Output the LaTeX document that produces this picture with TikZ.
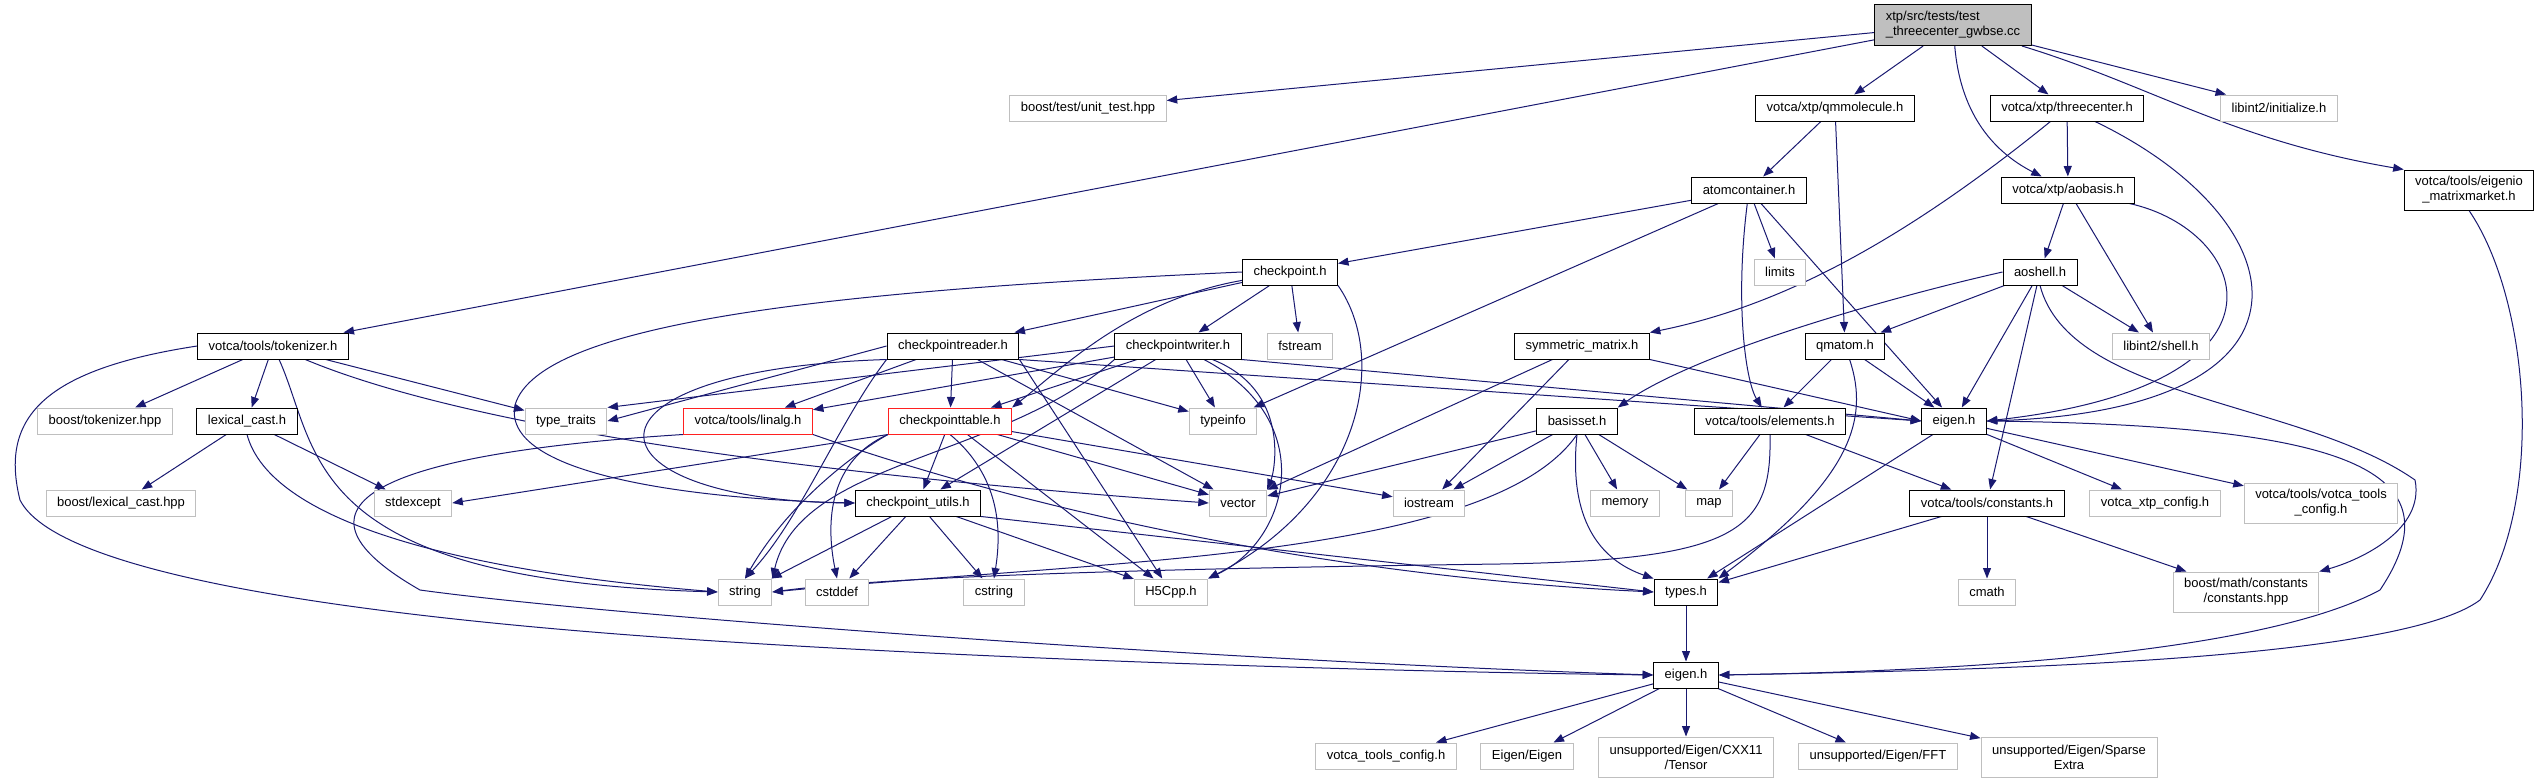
\documentclass[tikz,border=0pt]{standalone}
\usepackage{fontspec}
\setmainfont{Liberation Sans}
\usepackage{xcolor}
\usepackage{tikz}
\usetikzlibrary{arrows.meta,backgrounds}
\definecolor{edgeblue}{HTML}{191970}
\definecolor{sysgray}{HTML}{BFBFBF}
\definecolor{cutred}{HTML}{FF2020}

\begin{document}
\begin{tikzpicture}[x=1bp, y=-1bp,
  file/.style={draw=black, line width=1bp, fill=white, inner xsep=11bp, inner ysep=0bp,
    minimum height=26bp, font=\fontsize{13bp}{15bp}\selectfont},
  sysfile/.style={file, draw=sysgray},
  cutfile/.style={file, draw=cutred},
  twoline/.style={align=center, minimum height=40bp},
  dep/.style={draw=edgeblue, line width=1bp, -{Triangle[length=10.5bp,width=8bp]}}]
\useasboundingbox (0,0) rectangle (2544,783);

% Row 1: the test file itself
\node[file, fill=sysgray, align=left, minimum height=41bp] (root) at (1953,25) {xtp/src/tests/test\\\_threecenter\_gwbse.cc};

% Row 2
\node[sysfile] (unittest) at (1088,108) {boost/test/unit\_test.hpp};
\node[file] (qmmol) at (1835,108) {votca/xtp/qmmolecule.h};
\node[file] (threec) at (2067,108) {votca/xtp/threecenter.h};
\node[sysfile] (libinit) at (2279,108) {libint2/initialize.h};

% Row 3
\node[file] (atomc) at (1749,190) {atomcontainer.h};
\node[file] (aobasis) at (2068,190) {votca/xtp/aobasis.h};
\node[file, twoline] (eigenio) at (2469,190) {votca/tools/eigenio\\\_matrixmarket.h};

% Row 4
\node[file] (ckpt) at (1290,272) {checkpoint.h};
\node[sysfile] (limits) at (1780,272) {limits};
\node[file] (aoshell) at (2040,272) {aoshell.h};

% Row 5
\node[file] (tokenizer) at (273,346) {votca/tools/tokenizer.h};
\node[file] (ckreader) at (953,346) {checkpointreader.h};
\node[file] (ckwriter) at (1178,346) {checkpointwriter.h};
\node[sysfile] (fstream) at (1300,346) {fstream};
\node[file] (symmat) at (1582,346) {symmetric\_matrix.h};
\node[file] (qmatom) at (1845,346) {qmatom.h};
\node[sysfile] (shell) at (2161,346) {libint2/shell.h};

% Row 6
\node[sysfile] (btok) at (105,421) {boost/tokenizer.hpp};
\node[file] (lexcast) at (247,421) {lexical\_cast.h};
\node[sysfile] (typetr) at (566,421) {type\_traits};
\node[cutfile] (linalg) at (748,421) {votca/tools/linalg.h};
\node[cutfile] (cktable) at (950,421) {checkpointtable.h};
\node[sysfile] (typeinfo) at (1223,421) {typeinfo};
\node[file] (basisset) at (1577,421) {basisset.h};
\node[file] (elements) at (1770,421) {votca/tools/elements.h};
\node[file] (eigenx) at (1954,421) {eigen.h};

% Row 7
\node[sysfile] (blexcast) at (121,503) {boost/lexical\_cast.hpp};
\node[sysfile] (stdexc) at (413,503) {stdexcept};
\node[file] (ckutils) at (918,503) {checkpoint\_utils.h};
\node[sysfile] (vector) at (1238,503) {vector};
\node[sysfile] (iostream) at (1429,503) {iostream};
\node[sysfile] (memory) at (1625,503) {memory};
\node[sysfile] (map) at (1709,503) {map};
\node[file] (consts) at (1987,503) {votca/tools/constants.h};
\node[sysfile] (xtpconf) at (2155,503) {votca\_xtp\_config.h};
\node[sysfile, twoline] (tconf2) at (2321,503) {votca/tools/votca\_tools\\\_config.h};

% Row 8
\node[sysfile] (string) at (745,592) {string};
\node[sysfile] (cstddef) at (837,592) {cstddef};
\node[sysfile] (cstring) at (994,592) {cstring};
\node[sysfile] (h5cpp) at (1171,592) {H5Cpp.h};
\node[file] (types) at (1686,592) {types.h};
\node[sysfile] (cmath) at (1987,592) {cmath};
\node[sysfile, twoline] (bmathconst) at (2246,592) {boost/math/constants\\/constants.hpp};

% Row 9 and 10: the tools eigen header and what it pulls in
\node[file] (eigent) at (1686,675) {eigen.h};
\node[sysfile] (vtconf) at (1386,756) {votca\_tools\_config.h};
\node[sysfile] (eigeneigen) at (1527,756) {Eigen/Eigen};
\node[sysfile, twoline] (tensor) at (1686,757) {unsupported/Eigen/CXX11\\/Tensor};
\node[sysfile] (fft) at (1878,756) {unsupported/Eigen/FFT};
\node[sysfile, twoline] (sparse) at (2069,757) {unsupported/Eigen/Sparse\\Extra};

\begin{scope}[on background layer]
% Straight includes
\foreach \src/\dst in {root/unittest, root/tokenizer, root/qmmol, root/threec, root/libinit,
    tokenizer/btok, tokenizer/lexcast, tokenizer/typetr,
    lexcast/blexcast, lexcast/stdexc,
    qmmol/atomc, qmmol/qmatom, threec/aobasis,
    aobasis/aoshell, aobasis/shell,
    atomc/ckpt, atomc/typeinfo, atomc/limits, atomc/eigenx,
    ckpt/ckreader, ckpt/ckwriter, ckpt/fstream,
    ckreader/cktable, ckreader/linalg, ckreader/typeinfo, ckreader/vector,
    ckwriter/ckutils, ckwriter/cktable, ckwriter/linalg, ckwriter/typeinfo,
    cktable/ckutils, cktable/h5cpp, cktable/vector, cktable/iostream,
    ckutils/string, ckutils/cstddef, ckutils/cstring, ckutils/h5cpp,
    symmat/vector, symmat/iostream,
    qmatom/elements, qmatom/eigenx,
    basisset/vector, basisset/iostream, basisset/memory, basisset/map,
    aoshell/qmatom, aoshell/eigenx, aoshell/consts, aoshell/shell,
    elements/map, elements/consts,
    eigenx/xtpconf, eigenx/tconf2, eigenx/types,
    consts/cmath, consts/bmathconst, consts/types,
    types/eigent,
    eigent/vtconf, eigent/eigeneigen, eigent/tensor, eigent/fft, eigent/sparse}
  \draw[dep] (\src) -- (\dst);

% Straight, but leaving or entering at a corner
\draw[dep] (ckreader.south east) -- (eigenx.west);
\draw[dep] (ckwriter.south east) -- (eigenx.west);
\draw[dep] (symmat.south east) -- (eigenx.west);
\draw[dep] (ckreader.south east) -- (h5cpp);
\draw[dep] (ckreader.west) -- (typetr.east);
\draw[dep] (ckwriter.west) -- (typetr.north east);
\draw[dep] (cktable.south west) -- (stdexc.east);
\draw[dep] (ckutils.south east) -- (types.west);

% Curved includes
\draw[dep] (root) .. controls (1960,110) and (1990,150) .. (aobasis);
\draw[dep] (root) .. controls (2150,85) and (2230,140) .. (eigenio.north west);
\draw[dep] (threec) .. controls (1880,260) and (1760,310) .. (symmat.north east);
\draw[dep] (threec) .. controls (2300,220) and (2340,410) .. (eigenx.east);
\draw[dep] (aobasis) .. controls (2250,230) and (2310,385) .. (eigenx.east);
\draw[dep] (atomc) .. controls (1735,300) and (1745,380) .. (elements);
\draw[dep] (ckpt) .. controls (1130,300) and (1060,370) .. (cktable.north east);
\draw[dep] (ckpt.west) .. controls (850,290) and (540,320) .. (515,405)
  .. controls (500,480) and (720,500) .. (ckutils.west);
\draw[dep] (ckpt.south east) .. controls (1390,360) and (1360,500) .. (h5cpp.north east);
\draw[dep] (ckreader.south west) .. controls (560,370) and (580,500) .. (ckutils.west);
\draw[dep] (ckreader.south west) .. controls (840,420) and (800,520) .. (string.north);
\draw[dep] (ckwriter.south west) .. controls (1000,460) and (800,460) .. (string.north east);
\draw[dep] (ckwriter) .. controls (1290,390) and (1275,470) .. (vector.north east);
\draw[dep] (ckwriter) .. controls (1320,420) and (1290,540) .. (h5cpp.north east);
\draw[dep] (linalg.south east) .. controls (1000,500) and (1300,575) .. (types.west);
\draw[dep] (linalg.south west) .. controls (360,455) and (280,510) .. (420,590)
  .. controls (600,615) and (1200,660) .. (eigent.west);
\draw[dep] (tokenizer.west) .. controls (40,370) and (0,420) .. (20,500)
  .. controls (60,580) and (400,620) .. (700,640) .. controls (1000,660) and (1400,672) .. (eigent.west);
\draw[dep] (tokenizer) .. controls (320,450) and (300,580) .. (string.west);
\draw[dep] (tokenizer) .. controls (450,420) and (750,470) .. (vector.west);
\draw[dep] (lexcast.south) .. controls (270,520) and (450,570) .. (string.west);
\draw[dep] (cktable.south west) .. controls (860,450) and (790,500) .. (string.north);
\draw[dep] (cktable.south west) .. controls (830,460) and (825,520) .. (cstddef.north);
\draw[dep] (cktable.south) .. controls (1005,480) and (1000,540) .. (cstring.north);
\draw[dep] (basisset.south) .. controls (1490,560) and (1100,560) .. (string.east);
\draw[dep] (basisset.south) .. controls (1568,520) and (1600,560) .. (types.north west);
\draw[dep] (elements.south) .. controls (1772,530) and (1740,560) .. (1500,564)
  .. controls (1200,568) and (900,575) .. (string.east);
\draw[dep] (qmatom) .. controls (1870,420) and (1850,480) .. (types.north east);
\draw[dep] (aoshell.west) .. controls (1900,295) and (1700,350) .. (basisset.north east);
\draw[dep] (aoshell.south) .. controls (2070,400) and (2300,400) .. (2415,480)
  .. controls (2425,530) and (2360,560) .. (bmathconst.north east);
\draw[dep] (eigenx.east) .. controls (2350,425) and (2460,470) .. (2380,590)
  .. controls (2250,660) and (1900,672) .. (eigent.east);
\draw[dep] (eigenio.south) .. controls (2530,300) and (2545,500) .. (2480,600)
  .. controls (2400,660) and (2000,670) .. (eigent.east);
\end{scope}
\end{tikzpicture}
\end{document}
